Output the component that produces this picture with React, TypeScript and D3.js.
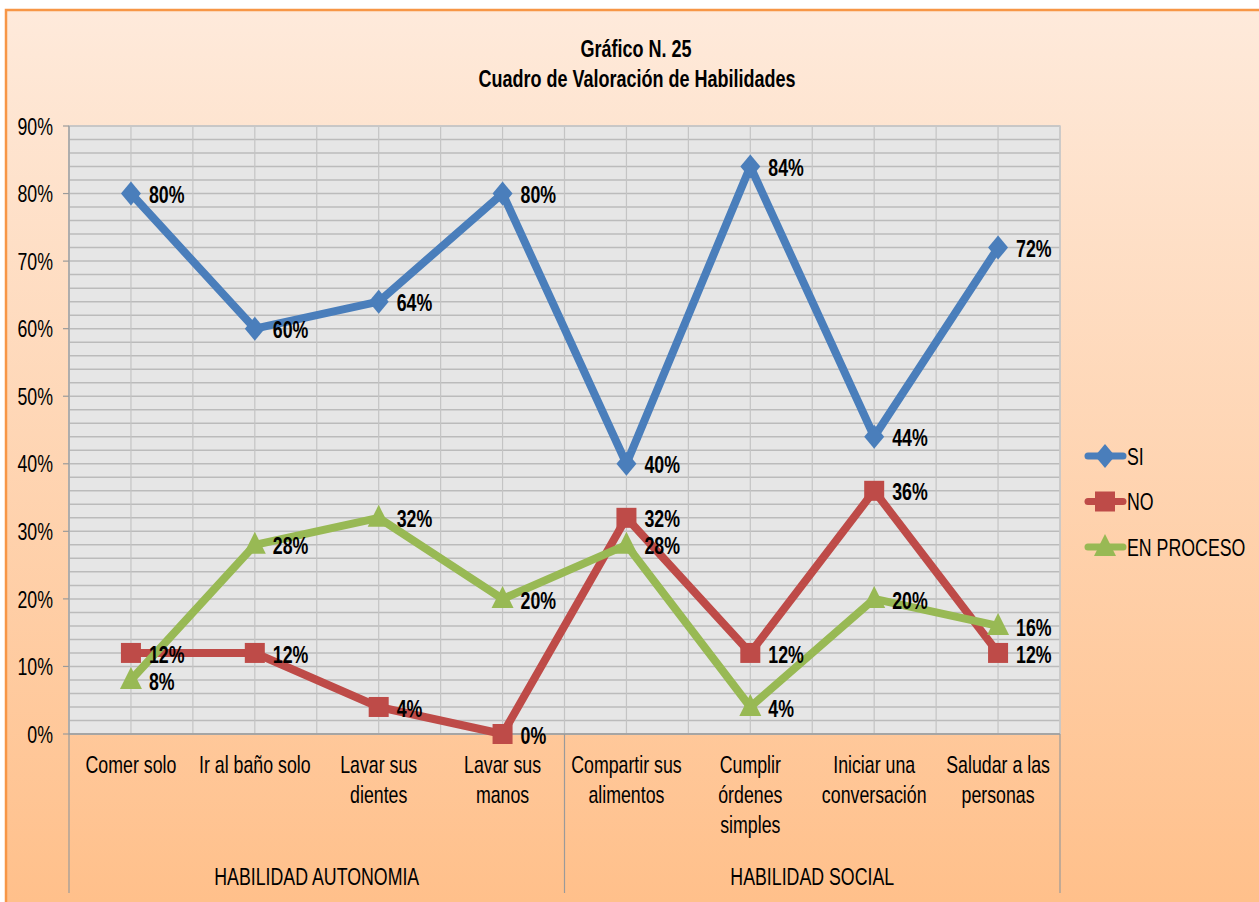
import React from "react";
import * as d3 from "d3";

const categories = [
  ["Comer solo"],
  ["Ir al baño solo"],
  ["Lavar sus", "dientes"],
  ["Lavar sus", "manos"],
  ["Compartir sus", "alimentos"],
  ["Cumplir", "órdenes", "simples"],
  ["Iniciar una", "conversación"],
  ["Saludar a las", "personas"],
];
const groups = ["HABILIDAD AUTONOMIA", "HABILIDAD SOCIAL"];
const groupSizes = [4, 4];

const siValues = [0.8, 0.6, 0.64, 0.8, 0.4, 0.84, 0.44, 0.72];
const noValues = [0.12, 0.12, 0.04, 0, 0.32, 0.12, 0.36, 0.12];
const procesoValues = [0.08, 0.28, 0.32, 0.2, 0.28, 0.04, 0.2, 0.16];

const yTicks = [0, 0.1, 0.2, 0.3, 0.4, 0.5, 0.6, 0.7, 0.8, 0.9];

const series = [
  { name: "SI", values: siValues, color: "#4A7EBB", marker: "diamond" },
  { name: "NO", values: noValues, color: "#BE4B48", marker: "square" },
  { name: "EN PROCESO", values: procesoValues, color: "#98B954", marker: "triangle" },
];

const W = 1259;
const H = 902;
const FONT = "'Liberation Sans', Arial, sans-serif";
const SX = 0.74; // squeeze to get the Arial Narrow look of the original

const plot = { left: 69, right: 1060, top: 126, bottom: 734 };

// condensed text: draw at origin and squeeze horizontally
function NText({
  x,
  y,
  anchor = "start",
  size = 24,
  bold = false,
  lines,
  lineH = 30,
  dy = "0",
  sx = SX,
}: {
  x: number;
  y: number;
  anchor?: string;
  size?: number;
  bold?: boolean;
  lines: string[];
  lineH?: number;
  dy?: string;
  sx?: number;
}) {
  return (
    <g transform={`translate(${x},${y}) scale(${sx},1)`}>
      <text textAnchor={anchor} fontSize={size} fontWeight={bold ? "bold" : "normal"}>
        {lines.map((l, j) => (
          <tspan key={j} x={0} dy={j === 0 ? dy : lineH}>
            {l}
          </tspan>
        ))}
      </text>
    </g>
  );
}

function Marker({ type, x, y, color }: { type: string; x: number; y: number; color: string }) {
  if (type === "diamond") {
    return <path d={`M${x},${y - 12}L${x + 10},${y}L${x},${y + 12}L${x - 10},${y}Z`} fill={color} />;
  }
  if (type === "square") {
    return <rect x={x - 10} y={y - 10} width={20} height={20} fill={color} />;
  }
  return <path d={`M${x},${y - 13}L${x + 11},${y + 9}L${x - 11},${y + 9}Z`} fill={color} />;
}

export default function App() {
  const idx = categories.map((_, i) => String(i));
  const x = d3.scaleBand().domain(idx).range([plot.left, plot.right]).padding(0);
  const y = d3.scaleLinear().domain([0, 0.9]).range([plot.bottom, plot.top]);
  const bw = x.bandwidth();
  const cx = (i: number) => (x(String(i)) as number) + bw / 2;
  const pct = d3.format(".0%");

  const minor = d3.range(0, 0.9001, 0.02);
  const vLines = d3.range(0, categories.length * 2 + 1).map((k) => plot.left + (k * bw) / 2);

  const line = d3
    .line<number>()
    .x((_, i) => cx(i))
    .y((d) => y(d));

  let acc = 0;
  const groupBounds = groupSizes.map((n) => {
    const s = acc;
    acc += n;
    return [s, acc];
  });

  return (
    <svg
      width={W}
      height={H}
      style={{ position: "absolute", left: 0, top: 0, display: "block" }}
      fontFamily={FONT}
    >
      <defs>
        <linearGradient id="bg" x1="0" y1="0" x2="0" y2="1">
          <stop offset="0" stopColor="#FEEADB" />
          <stop offset="1" stopColor="#FFBF89" />
        </linearGradient>
      </defs>
      <rect x={0} y={0} width={W} height={H} fill="#fff" />
      <rect x={6} y={10} width={W + 10} height={H + 10} fill="url(#bg)" stroke="#F79646" strokeWidth={2.5} />

      <NText x={636} y={57} anchor="middle" bold sx={0.75} lines={["Gráfico N. 25"]} />
      <NText x={637} y={87} anchor="middle" bold sx={0.75} lines={["Cuadro de Valoración de Habilidades"]} />

      <rect
        x={plot.left}
        y={plot.top}
        width={plot.right - plot.left}
        height={plot.bottom - plot.top}
        fill="#E6E6E6"
      />
      {minor.map((v, i) => (
        <line key={"h" + i} x1={plot.left} x2={plot.right} y1={y(v)} y2={y(v)} stroke="#BBBBBB" strokeWidth={1.5} />
      ))}
      {vLines.map((vx, i) => (
        <line key={"v" + i} x1={vx} x2={vx} y1={plot.top} y2={plot.bottom} stroke="#C4C4C4" strokeWidth={1.2} />
      ))}
      <rect
        x={plot.left}
        y={plot.top}
        width={plot.right - plot.left}
        height={plot.bottom - plot.top}
        fill="none"
        stroke="#C8C8C8"
        strokeWidth={1.5}
      />

      {/* y axis */}
      <line x1={plot.left} x2={plot.left} y1={plot.top} y2={plot.bottom} stroke="#9A9A9A" strokeWidth={1.2} />
      {yTicks.map((t) => (
        <g key={"yt" + t}>
          <line x1={plot.left - 6} x2={plot.left} y1={y(t)} y2={y(t)} stroke="#9A9A9A" strokeWidth={1.2} />
          <NText x={53} y={y(t)} dy="0.36em" anchor="end" lines={[pct(t)]} />
        </g>
      ))}

      {/* x axis */}
      <line x1={plot.left} x2={plot.right} y1={plot.bottom} y2={plot.bottom} stroke="#9A9A9A" strokeWidth={1.5} />
      {groupBounds.map(([s, e], gi) => {
        const x0 = x(String(s)) as number;
        const x1 = (x(String(e - 1)) as number) + bw;
        return (
          <g key={"g" + gi}>
            {gi === 0 && <line x1={x0} x2={x0} y1={plot.bottom} y2={893} stroke="#9A9A9A" strokeWidth={1.2} />}
            <line x1={x1} x2={x1} y1={plot.bottom} y2={893} stroke="#9A9A9A" strokeWidth={1.2} />
            <NText x={(x0 + x1) / 2} y={885} anchor="middle" lines={[groups[gi]]} />
          </g>
        );
      })}
      {categories.map((lines, i) => (
        <NText key={"c" + i} x={cx(i)} y={773} anchor="middle" lines={lines} />
      ))}

      {/* series */}
      {series.map((s) => (
        <g key={s.name}>
          <path d={line(s.values) as string} fill="none" stroke={s.color} strokeWidth={8} strokeLinejoin="round" />
          {s.values.map((v, i) => (
            <Marker key={i} type={s.marker} x={cx(i)} y={y(v)} color={s.color} />
          ))}
        </g>
      ))}
      {series.map((s) =>
        s.values.map((v, i) => (
          <NText key={s.name + "l" + i} x={cx(i) + 18} y={y(v) + 1} dy="0.36em" bold lines={[pct(v)]} />
        ))
      )}

      {/* legend */}
      {series.map((s, i) => {
        const ly = 456 + i * 45.5;
        return (
          <g key={"lg" + s.name}>
            <line x1={1088} x2={1123} y1={ly} y2={ly} stroke={s.color} strokeWidth={7} strokeLinecap="round" />
            <Marker type={s.marker} x={1105} y={ly} color={s.color} />
            <NText x={1127} y={ly} dy="0.36em" lines={[s.name]} />
          </g>
        );
      })}
    </svg>
  );
}
